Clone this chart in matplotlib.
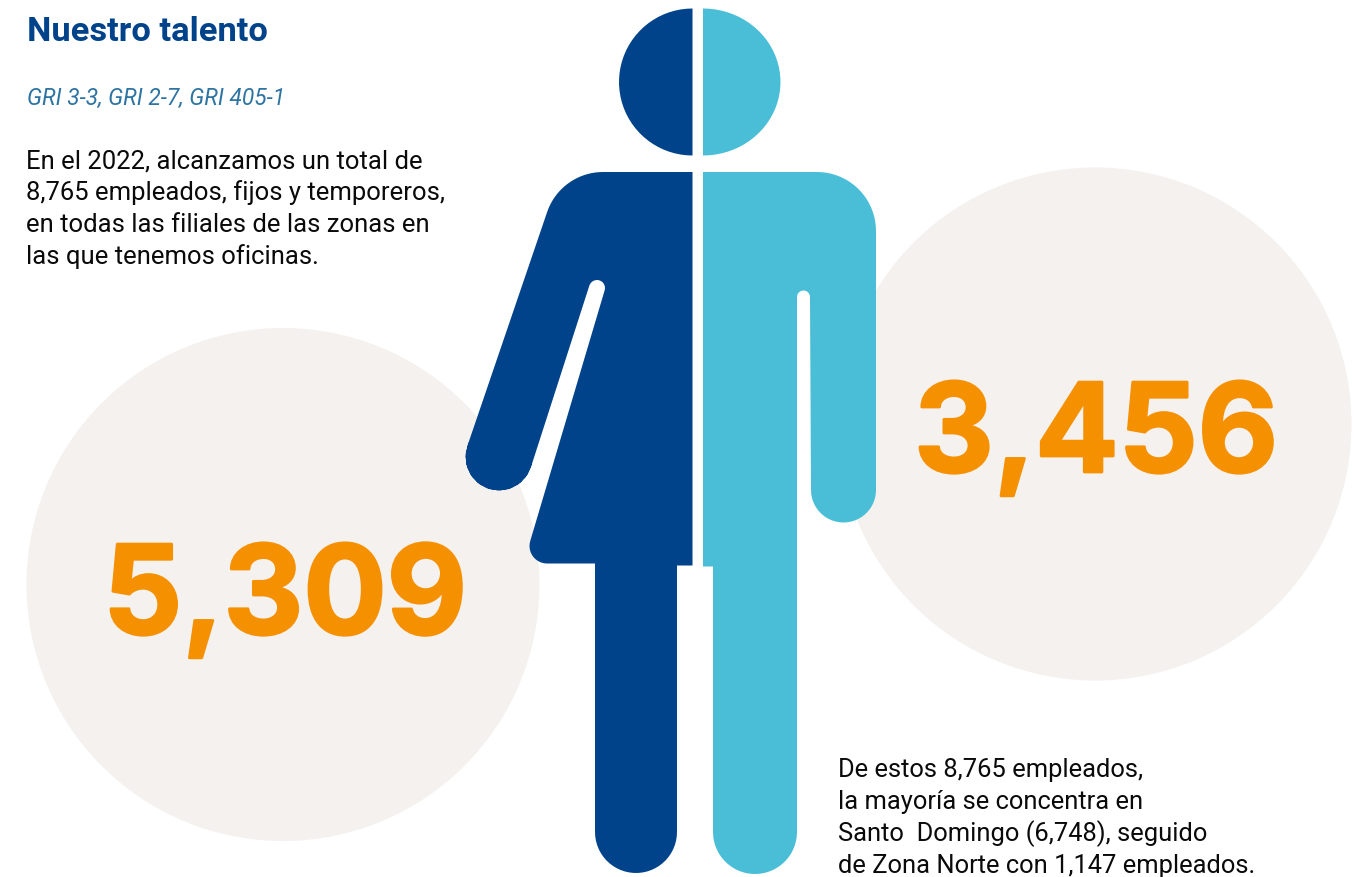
import numpy as np
import matplotlib
matplotlib.use('Agg')
import matplotlib.pyplot as plt
from matplotlib.patches import Circle, Polygon
import matplotlib.patheffects as pe

# Figures from the infographic
women = '5,309'
men = '3,456'
title = 'Nuestro talento'
gri = 'GRI 3-3, GRI 2-7, GRI 405-1'
intro = ['En el 2022, alcanzamos un total de',
         '8,765 empleados, fijos y temporeros,',
         'en todas las filiales de las zonas en',
         'las que tenemos oficinas.']
note = ['De estos 8,765 empleados,',
        'la mayoría se concentra en',
        'Santo  Domingo (6,748), seguido',
        'de Zona Norte con 1,147 empleados.']

dark = '#00438B'
light = '#4ABED6'
orange = '#F59100'
beige = '#F4F1EE'


def arc(cx, cy, r, a0, a1, n=40, ry=None):
    # angles in degrees, y axis points down here
    t = np.radians(np.linspace(a0, a1, n))
    return np.column_stack([cx + r * np.cos(t), cy + (ry or r) * np.sin(t)])


fig = plt.figure(figsize=(13.71, 8.78), dpi=100)
ax = fig.add_axes([0, 0, 1, 1])
ax.set_xlim(0, 1371)
ax.set_ylim(878, 0)
ax.axis('off')

# background circles
ax.add_patch(Circle((283, 585.5), 256.5, fc=beige, ec='none'))
ax.add_patch(Circle((1095, 425), 256.5, fc=beige, ec='none'))

# head
ax.add_patch(Polygon(arc(692.5, 83, 73.5, 90, 270), fc=dark, ec='none'))
ax.add_patch(Polygon(arc(703, 83, 77.5, -90, 90, ry=73.5), fc=light, ec='none'))

# left half of the body (skirt figure)
left_body = np.vstack([
    [[692.5, 173]],
    arc(603, 232, 59, 270, 199, 20),
    arc(499, 458, 33.5, 199, 18 - 360, 30),
    arc(597, 289, 8, 198, 378, 15),
    arc(547, 547, 17.5, 197, 90, 12),
    [[595, 564.5], [595, 833]],
    arc(636, 833, 41, 180, 0, 30),
    [[677, 566.5], [692.5, 566.5]],
])
ax.add_patch(Polygon(left_body, fc=dark, ec='none'))

# right half of the body
right_body = np.vstack([
    [[703, 173]],
    arc(817, 232, 59, 270, 360, 20),
    arc(843.5, 491, 32.5, 0, 180, 30),
    arc(803.5, 298, 6.5, 0, -180, 15),
    arc(755, 833, 42, 0, 180, 30),
    [[713, 567.5], [703, 567.5]],
])
ax.add_patch(Polygon(right_body, fc=light, ec='none'))

# big numbers
ax.text(285, 635, women, color=orange, fontsize=89, family='Inter', weight='bold',
        ha='center', va='baseline', path_effects=[pe.withStroke(linewidth=2, foreground=orange)])
ax.text(1096, 473, men, color=orange, fontsize=89, family='Inter', weight='bold',
        ha='center', va='baseline', path_effects=[pe.withStroke(linewidth=2, foreground=orange)])

# texts
ax.text(27, 41, title, color=dark, fontsize=24.8, family='Roboto', weight='bold')
ax.text(27, 105, gri, color='#2E74A3', fontsize=16.4, family='Roboto', style='italic')
for i, line in enumerate(intro):
    ax.text(26.5, 168.5 + i * 32, line, color='#0A0A0A', fontsize=18.45, family='Roboto')
for i, line in enumerate(note):
    ax.text(838, 777 + i * 32, line, color='#0A0A0A', fontsize=18.35, family='Roboto')

fig.savefig('out.png', dpi=100)
